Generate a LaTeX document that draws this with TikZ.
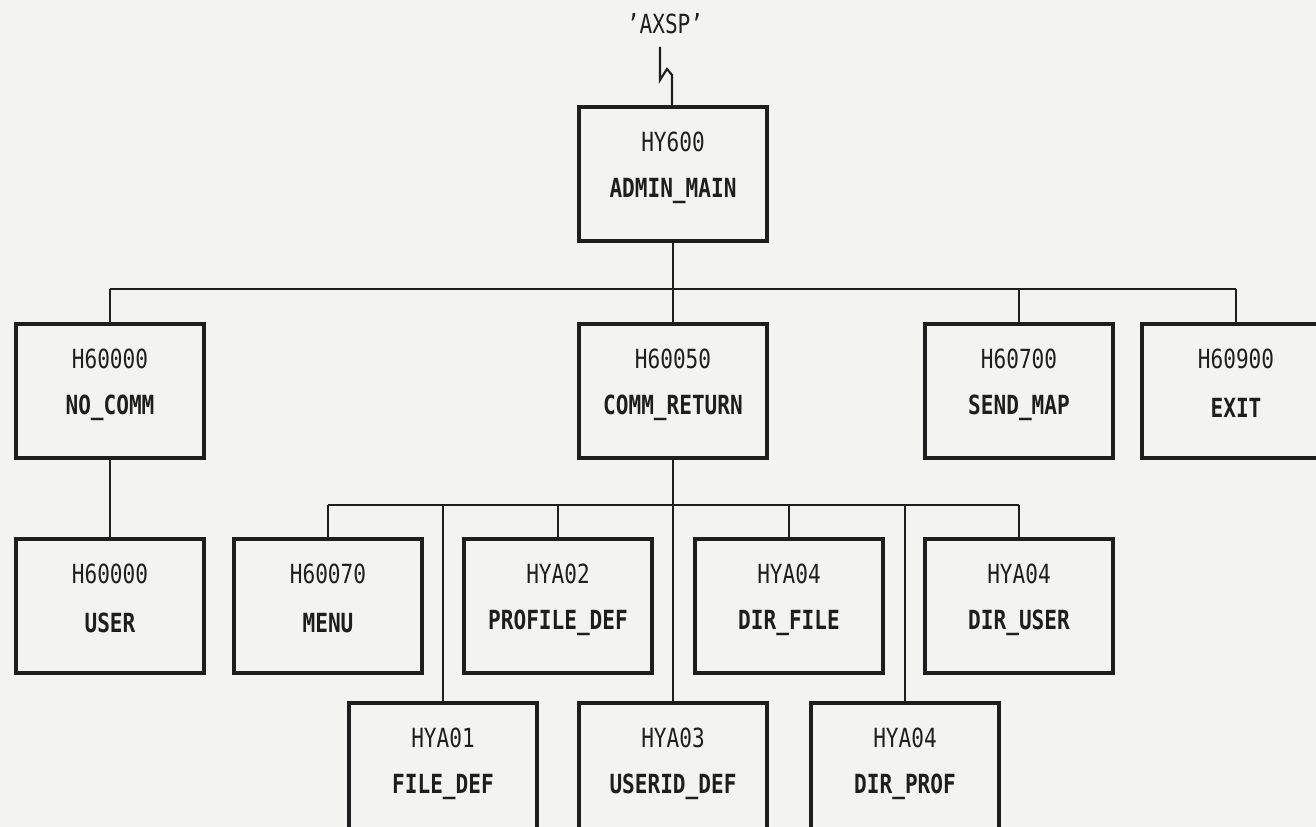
\documentclass[tikz,border=0pt]{standalone}
\usepackage{fontspec}
\newfontfamily\dotfont{DejaVu Sans Mono}
\definecolor{paper}{HTML}{F3F3F1}
\definecolor{ink}{HTML}{1E1E1E}
\tikzset{
  mbox/.style={draw=ink, line width=2.4pt, minimum width=3.76cm, minimum height=2.68cm, inner sep=0pt, anchor=north},
  tone/.style={font={\dotfont\fontsize{15}{15}\selectfont}, text=ink, inner sep=0pt},
  ttwo/.style={font={\dotfont\bfseries\fontsize{15}{15}\selectfont}, text=ink, inner sep=0pt},
  conn/.style={draw=ink, line width=1.2pt},
}
\newcommand\modbox[5]{%
  \node[mbox] (#1) at (#2,#3) {};
  \node[tone] (#1a) at (#2,#3+37) {\scalebox{0.8}[1]{#4}};
  \node[ttwo] (#1b) at (#2,#3+86) {\scalebox{0.8}[1]{#5}};
}
\begin{document}
\begin{tikzpicture}[x=0.02cm,y=-0.02cm]
\useasboundingbox (0,0) rectangle (1316,827);
\fill[paper] (0,0) rectangle (1316,827);
\clip (0,0) rectangle (1316,827);

\node[tone] (axsp) at (665,24) {\scalebox{0.8}[1]{’AXSP’}};

\modbox{hy}{673}{105}{HY600}{ADMIN\_MAIN}

\modbox{nocomm}{110}{322}{H60000}{NO\_COMM}
\modbox{comm}{673}{322}{H60050}{COMM\_RETURN}
\modbox{send}{1019}{322}{H60700}{SEND\_MAP}
\modbox{exit}{1236}{322}{H60900}{EXIT}

\modbox{user}{110}{537}{H60000}{USER}
\modbox{menu}{328}{537}{H60070}{MENU}
\modbox{prof}{558}{537}{HYA02}{PROFILE\_DEF}
\modbox{dfile}{789}{537}{HYA04}{DIR\_FILE}
\modbox{duser}{1019}{537}{HYA04}{DIR\_USER}

\modbox{fdef}{443}{701}{HYA01}{FILE\_DEF}
\modbox{udef}{673}{701}{HYA03}{USERID\_DEF}
\modbox{dprof}{905}{701}{HYA04}{DIR\_PROF}

\coordinate (b1) at (0,289);
\coordinate (b2) at (0,505);
\coordinate (sqtop) at (660,47);
\coordinate (sqx) at (672,0);

% entry squiggle
\draw[conn] (sqtop) -- (660,80) -- (667,69) -- (672,75) -- (sqx |- hy.north);

% level 1 -> level 2
\draw[conn] (hy.south) -- (hy.south |- b1);
\draw[conn] (nocomm.north |- b1) -- (exit.north |- b1);
\foreach \n in {nocomm,comm,send,exit}
  \draw[conn] (\n.north |- b1) -- (\n.north);

% NO_COMM -> USER
\draw[conn] (nocomm.south) -- (user.north);

% COMM_RETURN -> children
\draw[conn] (comm.south) -- (udef.north);
\draw[conn] (menu.north |- b2) -- (duser.north |- b2);
\foreach \n in {menu,prof,dfile,duser,fdef,dprof}
  \draw[conn] (\n.north |- b2) -- (\n.north);
\end{tikzpicture}
\end{document}
